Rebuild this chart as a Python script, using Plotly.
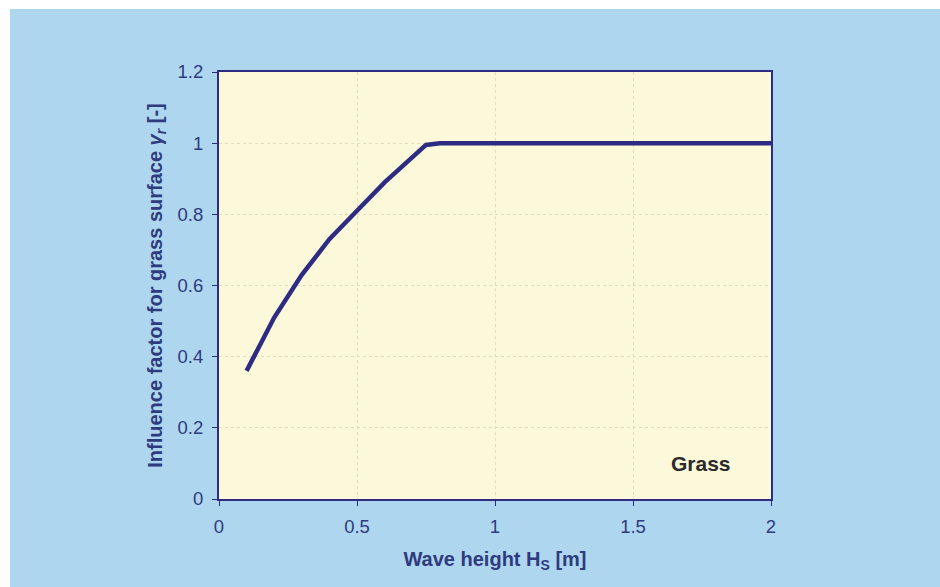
import plotly.graph_objects as go

# Wave height Hs [m] and influence factor for grass surface
wave_height = [0.1, 0.2, 0.3, 0.4, 0.5, 0.6, 0.7, 0.75, 0.8, 1.0, 1.2, 1.4, 1.6, 1.8, 2.0]
influence = [0.36, 0.51, 0.63, 0.73, 0.81, 0.89, 0.96, 0.995, 1.0, 1.0, 1.0, 1.0, 1.0, 1.0, 1.0]

x_ticks = [0, 0.5, 1, 1.5, 2]
x_tick_labels = ["0", "0.5", "1", "1.5", "2"]
y_ticks = [0, 0.2, 0.4, 0.6, 0.8, 1.0, 1.2]
y_tick_labels = ["0", "0.2", "0.4", "0.6", "0.8", "1", "1.2"]

NAVY = "#2d2c82"
LABEL = "#2e3b7e"
PANEL_BLUE = "#aed6ee"
PLOT_YELLOW = "#fbf9da"
GRID = "#e0dcbc"
FONT = "Liberation Sans, Arial"

fig = go.Figure()
fig.add_trace(go.Scatter(
    x=wave_height, y=influence, mode="lines",
    line=dict(color=NAVY, width=4.5),
    showlegend=False, hoverinfo="skip",
))

L, R, T, B = 219, 169, 72, 88
W, H = 940, 587
pw, ph = W - L - R, H - T - B

# light blue panel behind the whole chart, then the pale plot area
fig.add_shape(type="rect", xref="paper", yref="paper",
              x0=(10 - L) / pw, x1=(W - L) / pw,
              y0=-(H - T - ph) / ph - 0.01, y1=(H - B - 9) / ph,
              fillcolor=PANEL_BLUE, line=dict(width=0), layer="below")
fig.add_shape(type="rect", xref="paper", yref="paper",
              x0=0, x1=1, y0=0, y1=1,
              fillcolor=PLOT_YELLOW, line=dict(width=0), layer="below")

fig.add_annotation(x=1.745, y=0.1, xref="x", yref="y", text="<b>Grass</b>",
                   showarrow=False, font=dict(family=FONT, size=21, color="#2a2a2a"))

axis_common = dict(
    showline=True, linecolor=NAVY, linewidth=2, mirror=True,
    showgrid=True, gridcolor=GRID, griddash="dot", gridwidth=1,
    ticks="outside", ticklen=5, tickcolor=NAVY, tickwidth=1,
    tickfont=dict(family=FONT, size=18.5, color=LABEL),
    zeroline=False,
)

fig.update_xaxes(
    range=[0, 2], tickvals=x_ticks, ticktext=x_tick_labels,
    ticklabelstandoff=5,
    title=dict(text="<b>Wave height H<sub>S</sub> [m]</b>", standoff=16,
               font=dict(family=FONT, size=20, color=LABEL)),
    **axis_common,
)
fig.update_yaxes(
    range=[0, 1.2], tickvals=y_ticks, ticktext=y_tick_labels,
    ticklabelstandoff=5,
    title=dict(text="<b>Influence factor for grass surface <i>γ<sub>r</sub></i> [-]</b>", standoff=10,
               font=dict(family=FONT, size=20, color=LABEL)),
    **axis_common,
)

fig.update_layout(
    width=W, height=H,
    margin=dict(l=L, r=R, t=T, b=B),
    paper_bgcolor="white",
    plot_bgcolor="rgba(0,0,0,0)",
)

fig.write_html("out.html")
